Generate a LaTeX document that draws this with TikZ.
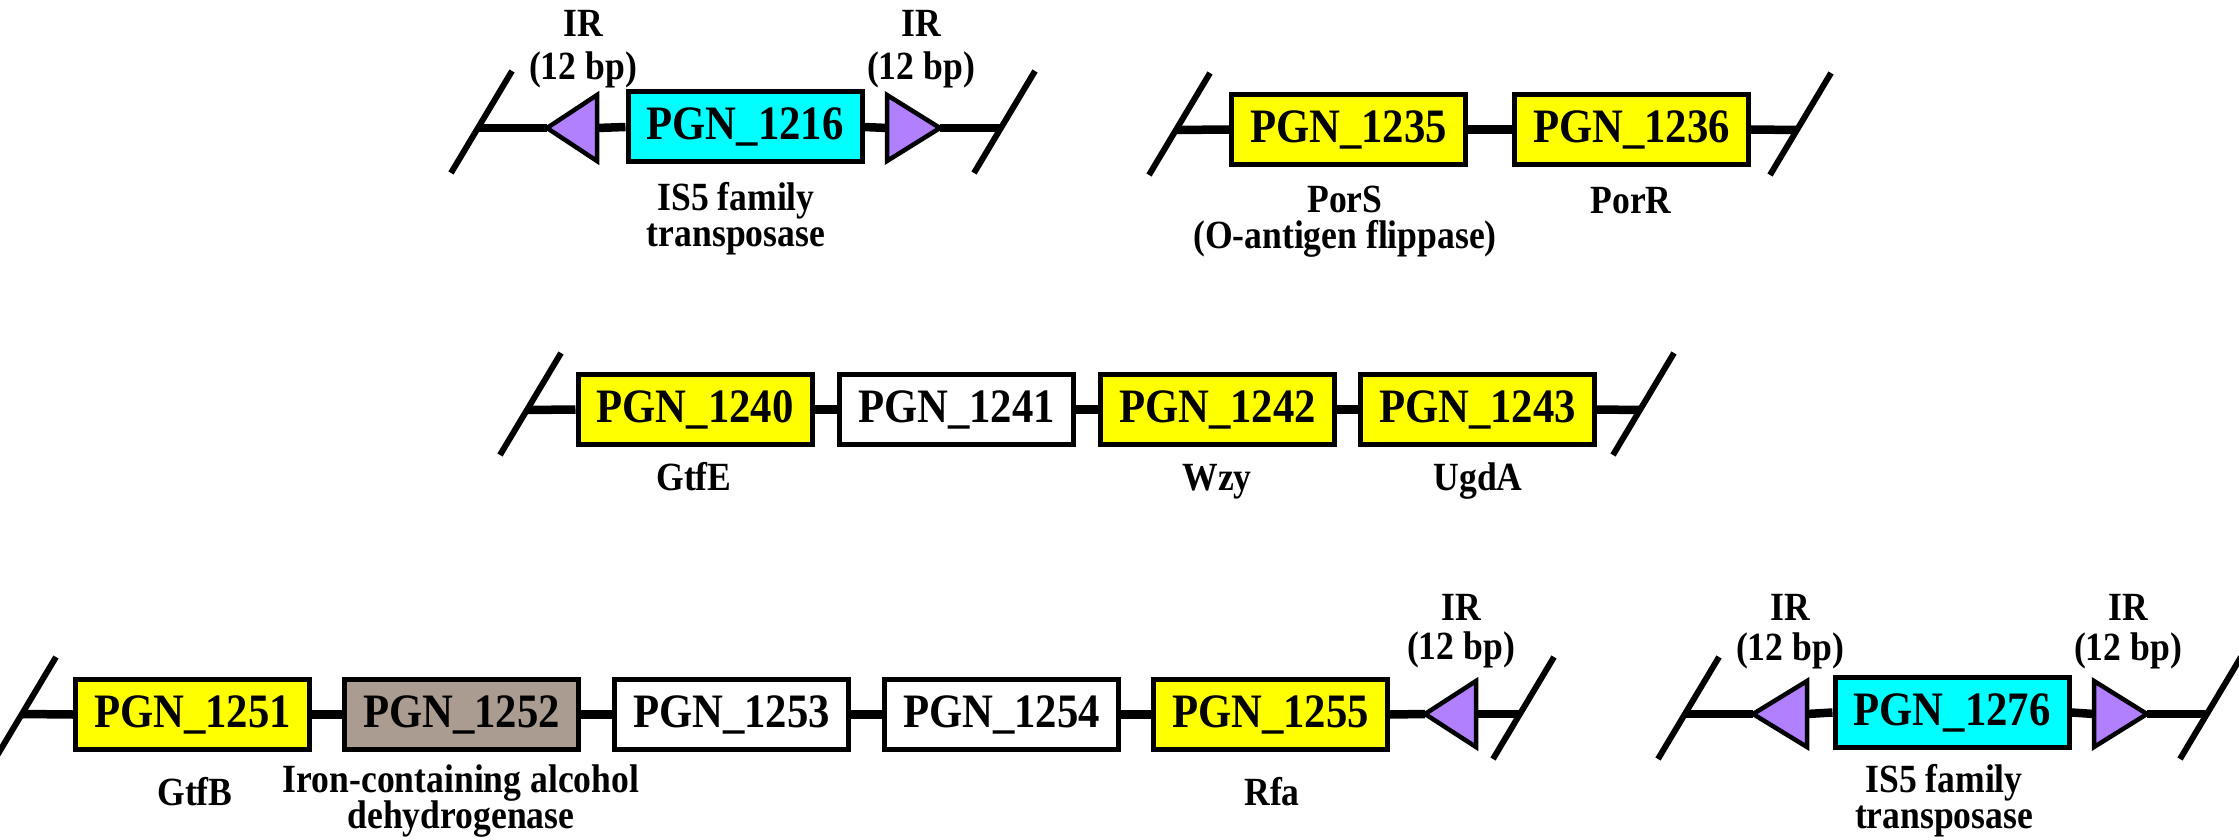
\documentclass[tikz,border=0pt]{standalone}
\usepackage{fontspec}
\setmainfont[FakeStretch=0.89]{Liberation Serif}
\definecolor{isblue}{RGB}{0,255,255}
\definecolor{genyellow}{RGB}{255,255,0}
\definecolor{adhbrown}{RGB}{170,156,144}
\definecolor{irpurple}{RGB}{176,128,255}
\newcommand\genefont{\bfseries\fontsize{48}{54}\selectfont}
\newcommand\labfont{\bfseries\fontsize{40}{44}\selectfont}
% two centred lines; the node baseline is that of the first line,
% #1 = distance between the two baselines (pt)
\newcommand\twoline[3]{\vtop{\baselineskip=#1pt\lineskiplimit=-100pt\relax
  \halign{\hfil##\hfil\cr#2\cr#3\cr}}}
\tikzset{
  gene/.style={draw=black, line width=5pt, minimum width=234pt, minimum height=70pt,
    inner sep=0pt, font=\genefont},
  bb/.style={line width=8.5pt, black},
  cut/.style={line width=6pt, black},
  irtri/.style={draw=black, fill=irpurple, line width=4.5pt, line join=miter},
  lab/.style={font=\labfont, anchor=base, inner sep=0pt},
}
\begin{document}
\begin{tikzpicture}[x=1pt,y=-1pt]
\fill[white] (0,0) rectangle (2239,840);
\useasboundingbox (0,0) rectangle (2239,840);

% ---------- IS element around PGN_1216 ----------
\coordinate (s1) at (478,128);
\coordinate (s2) at (1001,128);
\coordinate (ta1) at (547,128);  \coordinate (tb1) at (597,128);
\coordinate (tb2) at (887,128);  \coordinate (ta2) at (940,128);
\node[gene, fill=isblue] (g1216) at (745,127) {PGN\_1216};
\draw[bb] (s1) -- (ta1);
\draw[bb] (tb1) -- (g1216.west);
\draw[bb] (g1216.east) -- (tb2);
\draw[bb] (ta2) -- (s2);
\draw[irtri] (ta1) -- (597,95) -- (597,161) -- cycle;
\draw[irtri] (ta2) -- (887,95) -- (887,161) -- cycle;
\draw[cut] (s1) ++(-27,45) -- ++(61,-102);
\draw[cut] (s2) ++(-27,45) -- ++(61,-102);
\node[lab] (ir1) at (583,37) {\twoline{43}{IR}{(12 bp)}};
\node[lab] (ir2) at (921,37) {\twoline{43}{IR}{(12 bp)}};
\node[lab] (d1216) at (736,210) {\twoline{36}{IS5 family}{transposase}};

% ---------- PGN_1235 - PGN_1236 ----------
\coordinate (s3) at (1176,130);
\coordinate (s4) at (1797,130);
\node[gene, fill=genyellow] (g1235) at (1348.5,129.5) {PGN\_1235};
\node[gene, fill=genyellow] (g1236) at (1631.5,129.5) {PGN\_1236};
\draw[bb] (s3) -- (g1235.west);
\draw[bb] (g1235.east) -- (g1236.west);
\draw[bb] (g1236.east) -- (s4);
\draw[cut] (s3) ++(-27,45) -- ++(61,-102);
\draw[cut] (s4) ++(-27,45) -- ++(61,-102);
\node[lab] (d1235) at (1345,212) {\twoline{36}{PorS}{(O-antigen flippase)}};
\node[lab] (d1236) at (1631,213) {PorR};

% ---------- PGN_1240 - PGN_1243 ----------
\coordinate (s5) at (527,410);
\coordinate (s6) at (1640,410);
\node[gene, fill=genyellow] (g1240) at (695,409.5) {PGN\_1240};
\node[gene, fill=white] (g1241) at (956.5,409.5) {PGN\_1241};
\node[gene, fill=genyellow] (g1242) at (1217.5,409.5) {PGN\_1242};
\node[gene, fill=genyellow] (g1243) at (1477.5,409.5) {PGN\_1243};
\draw[bb] (s5) -- (g1240.west);
\draw[bb] (g1240.east) -- (g1241.west);
\draw[bb] (g1241.east) -- (g1242.west);
\draw[bb] (g1242.east) -- (g1243.west);
\draw[bb] (g1243.east) -- (s6);
\draw[cut] (s5) ++(-27,45) -- ++(61,-102);
\draw[cut] (s6) ++(-27,45) -- ++(61,-102);
\node[lab] (d1240) at (694,490) {GtfE};
\node[lab] (d1242) at (1217,490) {Wzy};
\node[lab] (d1243) at (1478,490) {UgdA};

% ---------- PGN_1251 - PGN_1255 ----------
\coordinate (s7) at (22,714);
\coordinate (s8) at (1520,714);
\coordinate (ta3) at (1425,714); \coordinate (tb3) at (1476,714);
\node[gene, fill=genyellow] (g1251) at (192.5,714.5) {PGN\_1251};
\node[gene, fill=adhbrown] (g1252) at (461.5,714.5) {PGN\_1252};
\node[gene, fill=white] (g1253) at (731.5,714.5) {PGN\_1253};
\node[gene, fill=white] (g1254) at (1001.5,714.5) {PGN\_1254};
\node[gene, fill=genyellow] (g1255) at (1270.5,714.5) {PGN\_1255};
\draw[bb] (s7) -- (g1251.west);
\draw[bb] (g1251.east) -- (g1252.west);
\draw[bb] (g1252.east) -- (g1253.west);
\draw[bb] (g1253.east) -- (g1254.west);
\draw[bb] (g1254.east) -- (g1255.west);
\draw[bb] (g1255.east) -- (ta3);
\draw[bb] (tb3) -- (s8);
\draw[irtri] (ta3) -- (1476,681) -- (1476,747) -- cycle;
\draw[cut] (s7) ++(-27,45) -- ++(61,-102);
\draw[cut] (s8) ++(-27,45) -- ++(61,-102);
\node[lab] (ir3) at (1461,620) {\twoline{39}{IR}{(12 bp)}};
\node[lab] (d1251) at (195,805) {GtfB};
\node[lab] (d1252) at (461,792) {\twoline{36}{Iron-containing alcohol}{dehydrogenase}};
\node[lab] (d1255) at (1272,805) {Rfa};

% ---------- IS element around PGN_1276 ----------
\coordinate (s9) at (1685,714);
\coordinate (s10) at (2207,714);
\coordinate (ta4) at (1753,714); \coordinate (tb4) at (1807,714);
\coordinate (tb5) at (2094,714); \coordinate (ta5) at (2147,714);
\node[gene, fill=isblue] (g1276) at (1952,712.5) {PGN\_1276};
\draw[bb] (s9) -- (ta4);
\draw[bb] (tb4) -- (g1276.west);
\draw[bb] (g1276.east) -- (tb5);
\draw[bb] (ta5) -- (s10);
\draw[irtri] (ta4) -- (1807,681) -- (1807,747) -- cycle;
\draw[irtri] (ta5) -- (2094,681) -- (2094,747) -- cycle;
\draw[cut] (s9) ++(-27,45) -- ++(61,-102);
\draw[cut] (s10) ++(-27,45) -- ++(61,-102);
\node[lab] (ir4) at (1790,620) {\twoline{40}{IR}{(12 bp)}};
\node[lab] (ir5) at (2128,620) {\twoline{40}{IR}{(12 bp)}};
\node[lab] (d1276) at (1944,792) {\twoline{36}{IS5 family}{transposase}};
\end{tikzpicture}
\end{document}
